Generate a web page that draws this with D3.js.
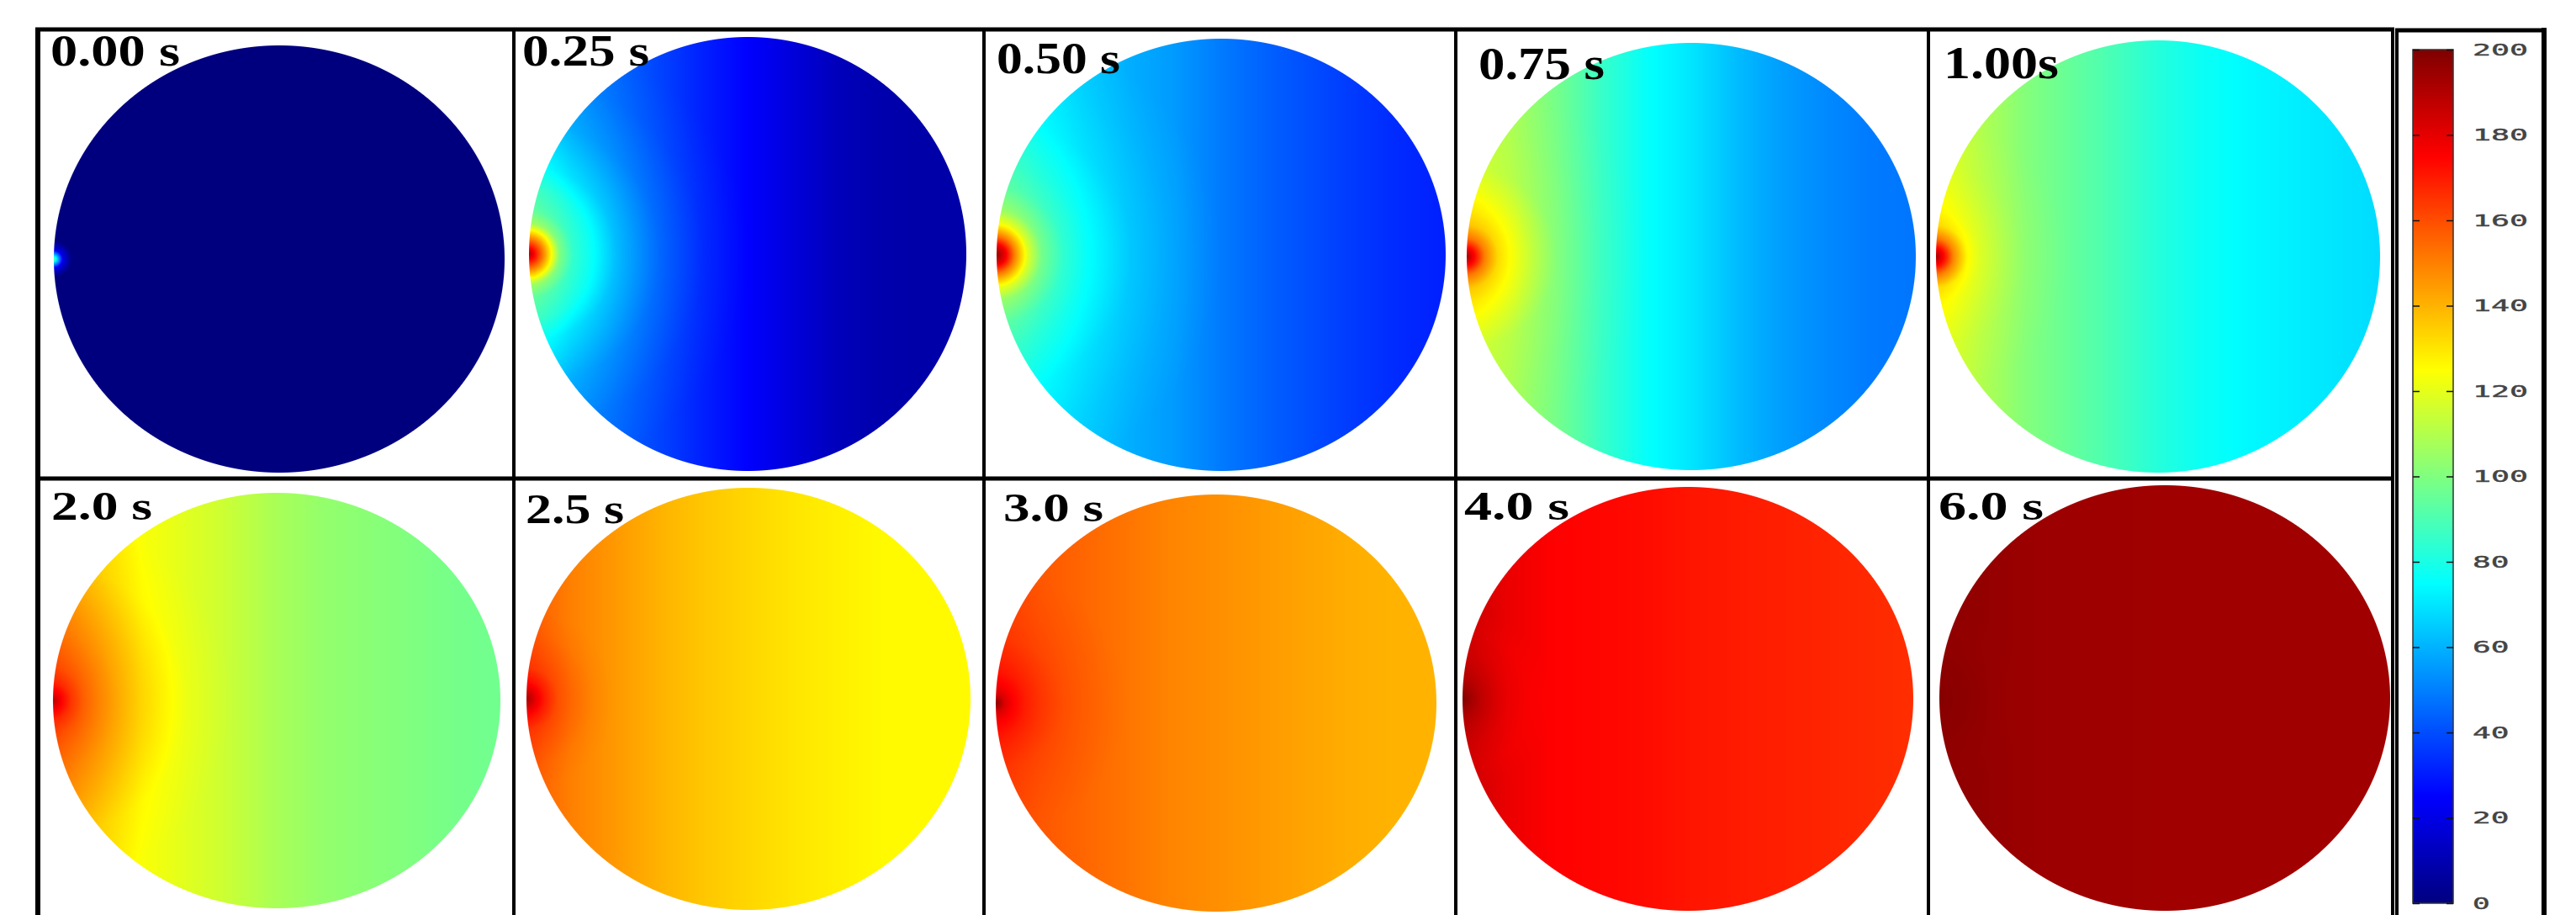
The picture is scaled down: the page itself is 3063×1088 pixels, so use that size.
<!DOCTYPE html>
<html lang="en">
<head>
<meta charset="UTF-8">
<title>Temperature field snapshots</title>
<style>
  body { margin: 0; background: #fff; }
  svg { display: block; }
</style>
</head>
<body>
<svg width="3063" height="1088"></svg>
<script src="https://d3js.org/d3.v7.min.js"></script>
<script>
// snapshot times
var timeLabels = ["0.00 s", "0.25 s", "0.50 s", "0.75 s", "1.00s",
                  "2.0 s", "2.5 s", "3.0 s", "4.0 s", "6.0 s"];

// stations across the disc, 0 = heated left edge, 1 = right edge
var midStations = [0, 0.02, 0.04, 0.07, 0.1, 0.15, 0.2, 0.3, 0.4, 0.5, 0.6, 0.7, 0.8, 0.9, 1];
var rimStations = [0, 0.1, 0.2, 0.3, 0.4, 0.5, 0.6, 0.7, 0.8, 0.9, 1];

// temperature read along the horizontal midline (through the hot spot)
var midTemps = [
  [95, 20, 0, 0, 0, 0, 0, 0, 0, 0, 0, 0, 0, 0, 0],
  [190, 165, 140, 100, 85, 75, 62, 45, 33, 25, 18, 12, 9, 8, 8],
  [195, 178, 150, 118, 98, 84, 76, 64, 57, 49, 44, 40, 36, 33, 31],
  [192, 172, 150, 132, 124, 112, 101, 87, 76, 70, 62, 56, 52, 49, 48],
  [192, 172, 148, 126, 118, 110, 103, 95, 89, 82, 77, 74, 72, 70, 68],
  [188, 175, 165, 156, 150, 141, 133, 121, 114, 108, 104, 102, 100, 98, 97],
  [192, 180, 170, 160, 155, 149, 145, 140, 136, 133, 130, 128, 126, 126, 126],
  [198, 182, 175, 169, 165, 160, 157, 152, 149, 147, 145, 143, 141, 140, 140],
  [200, 193, 188, 183, 179, 176, 175, 174, 173, 171, 170, 169, 168, 167, 166],
  [199, 198, 197.5, 197, 196, 195, 194.5, 194, 194, 193.5, 193.5, 193.5, 193.5, 193.5, 193.5]
];

// temperature read along the rim, away from the hot spot
var rimTemps = [
  [0, 0, 0, 0, 0, 0, 0, 0, 0, 0, 0],
  [62, 52, 45, 38, 31, 25, 18, 12, 9, 8, 8],
  [78, 70, 64, 59, 55, 49, 44, 40, 36, 33, 31],
  [115, 108, 98, 86, 76, 70, 62, 56, 52, 49, 48],
  [120, 110, 101, 95, 89, 82, 77, 74, 72, 70, 68],
  [142, 133, 124, 119, 114, 108, 104, 102, 100, 98, 97],
  [158, 150, 145, 140, 136, 133, 130, 128, 126, 126, 126],
  [162, 158, 155, 152, 149, 147, 145, 143, 141, 140, 140],
  [186, 179, 175, 174, 173, 171, 170, 169, 168, 167, 166],
  [197, 196, 194.5, 194, 194, 193.5, 193.5, 193.5, 193.5, 193.5, 193.5]
];

// colour bar
var cbTicks = [0, 20, 40, 60, 80, 100, 120, 140, 160, 180, 200];
var jetStops = [0, 25, 75, 125, 175, 200];
var jetColors = ["#00007f", "#0000ff", "#00ffff", "#ffff00", "#ff0000", "#7f0000"];

// layout (pixels)
var discs = [
  { cx: 332, cy: 308, rx: 268, ry: 254 },
  { cx: 889, cy: 302, rx: 260, ry: 258 },
  { cx: 1452, cy: 303, rx: 267, ry: 257 },
  { cx: 2011, cy: 305, rx: 267, ry: 254 },
  { cx: 2566, cy: 305, rx: 264, ry: 257 },
  { cx: 329, cy: 833, rx: 266, ry: 247 },
  { cx: 890, cy: 831, rx: 264, ry: 251 },
  { cx: 1446, cy: 836, rx: 262, ry: 248 },
  { cx: 2007, cy: 831, rx: 268, ry: 252 },
  { cx: 2574, cy: 830, rx: 268, ry: 253 }
];
var labelPos = [
  { x: 60, y: 78, w: 154, fs: 53 },
  { x: 621, y: 78, w: 151, fs: 53 },
  { x: 1185, y: 87, w: 147, fs: 53 },
  { x: 1758, y: 94, w: 150, fs: 55 },
  { x: 2311, y: 93, w: 137, fs: 55 },
  { x: 61, y: 618, w: 120, fs: 48 },
  { x: 625, y: 622, w: 117, fs: 50 },
  { x: 1193, y: 620, w: 119, fs: 48 },
  { x: 1741, y: 618, w: 125, fs: 48 },
  { x: 2305, y: 618, w: 125, fs: 48 }
];

var svg = d3.select("svg");

var jet = d3.scaleLinear().domain(jetStops).range(jetColors).clamp(true);
var lut = d3.range(0, 2001).map(function (k) { return d3.rgb(jet(k / 10)); });

// temperature fields
discs.forEach(function (g, i) {
  var mid = d3.scaleLinear().domain(midStations).range(midTemps[i]).clamp(true);
  var rim = d3.scaleLinear().domain(rimStations).range(rimTemps[i]).clamp(true);
  var W = Math.ceil(2 * g.rx) + 4, H = Math.ceil(2 * g.ry) + 4;
  var x0 = g.cx - g.rx - 2, y0 = g.cy - g.ry - 2;
  var D = 2 * g.rx, hx = g.cx - g.rx, hy = g.cy;

  // spot excess over the rim profile, by distance from the hot spot
  var nd = 3000;
  var excess = d3.range(nd + 1).map(function (k) {
    var d = k / nd * 1.5;
    return mid(d) - rim(d);
  });

  var canvas = document.createElement("canvas");
  canvas.width = W; canvas.height = H;
  var ctx = canvas.getContext("2d");
  var img = ctx.createImageData(W, H);
  var rMin = Math.min(g.rx, g.ry);
  for (var px = 0; px < W; px++) {
    var x = x0 + px + 0.5;
    var base = rim((x - hx) / D);
    for (var py = 0; py < H; py++) {
      var y = y0 + py + 0.5;
      var ex = (x - g.cx) / g.rx, ey = (y - g.cy) / g.ry;
      var a = (1 - Math.sqrt(ex * ex + ey * ey)) * rMin + 0.5;
      if (a <= 0) continue;
      if (a > 1) a = 1;
      var d = Math.sqrt((x - hx) * (x - hx) + (y - hy) * (y - hy)) / D;
      var k = Math.min(nd, Math.round(d / 1.5 * nd));
      var T = base + excess[k];
      var c = lut[Math.max(0, Math.min(2000, Math.round(T * 10)))];
      var o = (py * W + px) * 4;
      img.data[o] = c.r; img.data[o + 1] = c.g; img.data[o + 2] = c.b;
      img.data[o + 3] = Math.round(a * 255);
    }
  }
  ctx.putImageData(img, 0, 0);
  svg.append("image")
    .attr("x", x0).attr("y", y0)
    .attr("width", W).attr("height", H)
    .attr("href", canvas.toDataURL());
});

// panel frames
var frame = svg.append("g").attr("stroke", "#000");
var colX = [45, 611, 1170, 1731, 2293, 2845];
frame.append("line").attr("x1", 42).attr("x2", 2847).attr("y1", 35).attr("y2", 35).attr("stroke-width", 5);
frame.append("line").attr("x1", 42).attr("x2", 2847).attr("y1", 569).attr("y2", 569).attr("stroke-width", 5);
colX.forEach(function (x, i) {
  frame.append("line").attr("x1", x).attr("x2", x).attr("y1", 33).attr("y2", 1088)
    .attr("stroke-width", i === 0 ? 6 : 4);
});

// time labels
svg.append("g").selectAll("text").data(timeLabels).enter().append("text")
  .attr("x", function (d, i) { return labelPos[i].x; })
  .attr("y", function (d, i) { return labelPos[i].y; })
  .attr("textLength", function (d, i) { return labelPos[i].w; })
  .attr("lengthAdjust", "spacingAndGlyphs")
  .style("font-family", "'Liberation Serif', 'Times New Roman', serif")
  .style("font-weight", "bold")
  .style("font-size", function (d, i) { return labelPos[i].fs + "px"; })
  .style("fill", "#000")
  .text(function (d) { return d; });

// colour bar
var cbBox = { left: 2850, right: 3025, top: 36 };
var bar = { x: 2869, w: 48 };
var cbY = d3.scaleLinear().domain([0, 200]).range([1074, 59]);

var grad = svg.append("defs").append("linearGradient")
  .attr("id", "jet").attr("x1", 0).attr("y1", 0).attr("x2", 0).attr("y2", 1);
grad.selectAll("stop").data(jetStops.slice().reverse()).enter().append("stop")
  .attr("offset", function (v) { return (200 - v) / 200; })
  .attr("stop-color", function (v) { return jet(v); });

svg.append("rect")
  .attr("x", bar.x).attr("y", cbY(200))
  .attr("width", bar.w).attr("height", cbY(0) - cbY(200))
  .attr("fill", "url(#jet)")
  .attr("stroke", "#333").attr("stroke-width", 1.5);

var tickIn1 = svg.append("g").attr("transform", "translate(" + bar.x + ",0)")
  .call(d3.axisRight(cbY).tickValues(cbTicks).tickSize(8).tickFormat(""));
var tickIn2 = svg.append("g").attr("transform", "translate(" + (bar.x + bar.w) + ",0)")
  .call(d3.axisLeft(cbY).tickValues(cbTicks).tickSize(8).tickFormat(""));
[tickIn1, tickIn2].forEach(function (a) {
  a.select(".domain").remove();
  a.selectAll("line").attr("stroke", "#111").attr("stroke-width", 1.5);
});

var cbLabels = svg.append("g").attr("transform", "translate(" + (bar.x + bar.w) + ",0)")
  .call(d3.axisRight(cbY).tickValues(cbTicks).tickSize(0).tickPadding(23));
cbLabels.select(".domain").remove();
cbLabels.selectAll("text")
  .attr("font-family", "'DejaVu Sans Mono', monospace")
  .attr("font-size", 20)
  .attr("fill", "#444")
  .attr("stroke", "#444").attr("stroke-width", 0.4)
  .attr("textLength", function (v) { return String(v).length * 22.7 - 2; })
  .attr("lengthAdjust", "spacingAndGlyphs");

var box = svg.append("g").attr("stroke", "#000");
box.append("line").attr("x1", cbBox.left).attr("x2", cbBox.left).attr("y1", 34).attr("y2", 1088).attr("stroke-width", 4);
box.append("line").attr("x1", cbBox.right).attr("x2", cbBox.right).attr("y1", 33).attr("y2", 1088).attr("stroke-width", 6);
box.append("line").attr("x1", cbBox.left - 2).attr("x2", cbBox.right + 3).attr("y1", 36).attr("y2", 36).attr("stroke-width", 5);
</script>
</body>
</html>
